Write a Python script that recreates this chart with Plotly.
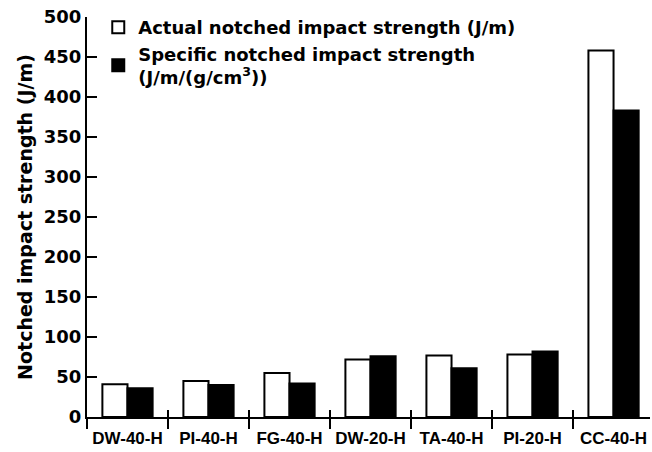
import plotly.graph_objects as go

categories = ["DW-40-H", "PI-40-H", "FG-40-H", "DW-20-H", "TA-40-H", "PI-20-H", "CC-40-H"]
actual = [41, 45, 55, 72, 77, 78, 458]
specific = [36, 40, 42, 76, 61, 82, 383]
y_ticks = [0, 50, 100, 150, 200, 250, 300, 350, 400, 450, 500]

wide_font = "DejaVu Sans"
narrow_font = "Liberation Sans, Arial, sans-serif"
x_range = [-0.5, 6.45]

fig = go.Figure()
fig.add_trace(go.Bar(
    x=categories, y=actual,
    name="Actual notched impact strength (J/m)",
    marker=dict(color="white", line=dict(color="black", width=2)),
))
fig.add_trace(go.Bar(
    x=categories, y=specific,
    name="Specific notched impact strength<br>(J/m/(g/cm<sup>3</sup>))",
    marker=dict(color="black", line=dict(color="black", width=2)),
))
# invisible helper so the upper half of the boundary ticks is drawn
fig.add_trace(go.Scatter(x=categories, y=[0] * len(categories), xaxis="x2", mode="markers",
                         marker=dict(opacity=0), showlegend=False, hoverinfo="skip"))

fig.update_layout(
    width=652, height=452,
    margin=dict(l=87, r=2, t=17, b=35),
    paper_bgcolor="white", plot_bgcolor="white",
    barmode="group", bargap=0.38, bargroupgap=0,
    font=dict(family=wide_font, color="black", weight="bold"),
    showlegend=True,
    legend=dict(
        x=0.02, y=1.02, xanchor="left", yanchor="top",
        bgcolor="rgba(0,0,0,0)",
        font=dict(family=wide_font, size=18, color="black", weight="bold"),
        tracegroupgap=0, itemwidth=30,
    ),
    xaxis=dict(
        range=x_range, automargin=False, tickangle=0,
        showline=True, linecolor="black", linewidth=2,
        ticks="outside", tickson="boundaries", ticklen=10, tickwidth=2, tickcolor="black",
        ticklabelstandoff=5,
        tickfont=dict(family=narrow_font, size=17, color="black", weight="bold"),
        showgrid=False, zeroline=False,
    ),
    xaxis2=dict(
        type="category", range=x_range, overlaying="x", anchor="y", side="bottom",
        automargin=False, showticklabels=False, showline=False,
        ticks="inside", tickson="boundaries", ticklen=7, tickwidth=2, tickcolor="black",
        showgrid=False, zeroline=False,
    ),
    yaxis=dict(
        range=[0, 500], automargin=False,
        tickvals=y_ticks,
        showline=True, linecolor="black", linewidth=2,
        ticks="inside", ticklen=10, tickwidth=2, tickcolor="black",
        tickfont=dict(family=wide_font, size=18, color="black", weight="bold"),
        showgrid=False, zeroline=False,
        title=dict(text="Notched impact strength (J/m)",
                   font=dict(family=wide_font, size=19, color="black", weight="bold"),
                   standoff=6),
    ),
)

fig.write_html("out.html")
